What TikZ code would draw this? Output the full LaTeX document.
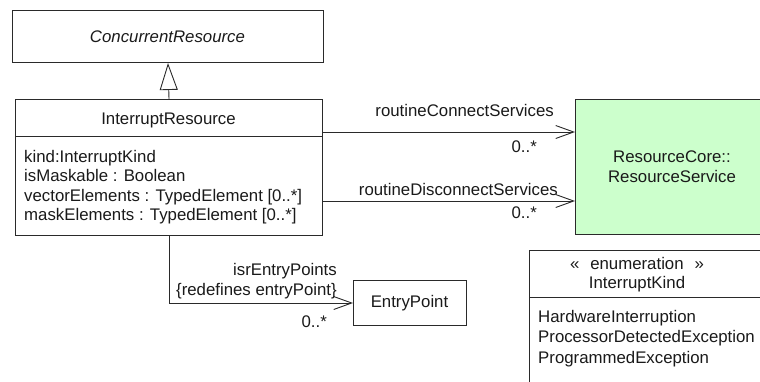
\documentclass[tikz,border=0pt]{standalone}
\usepackage{fontspec}
\setmainfont{Liberation Sans}
\usetikzlibrary{arrows.meta}
\definecolor{rsgreen}{HTML}{CCFFCC}
\definecolor{ink}{HTML}{1A1A1A}
\definecolor{edge}{HTML}{2A2A2A}
\tikzset{
  umlbox/.style={draw=edge, line width=1pt, fill=white, rectangle, inner sep=0pt, anchor=north west},
  txt/.style={inner sep=0pt, text=ink, font=\fontsize{16.8pt}{19.5pt}\selectfont},
  assoc/.style={draw=edge, line width=0.9pt, -{Straight Barb[length=18pt,width=13pt,line width=0.9pt]}},
  gen/.style={draw=edge, line width=0.9pt, -{Triangle[open,length=27pt,width=18pt,line width=0.9pt,fill=white]}},
  divider/.style={draw=edge, line width=1pt}
}
\begin{document}
\begin{tikzpicture}[x=1pt,y=-1pt]
\useasboundingbox (0,0) rectangle (760,381);
\clip (0,0) rectangle (760,381);
\fill[white] (0,0) rectangle (760,381);

% ConcurrentResource
\node[umlbox, minimum width=311pt, minimum height=52pt] (cr) at (12,10) {};
\node[txt, anchor=base, font=\fontsize{16.8pt}{19.5pt}\selectfont\itshape] (crt) at (167.5,42) {ConcurrentResource};

% InterruptResource
\node[umlbox, minimum width=307pt, minimum height=136pt] (ir) at (15,99) {};
\draw[divider] (ir.west |- 0,136) -- (ir.east |- 0,136);
\node[txt, anchor=base] (irt) at (168.5,124) {InterruptResource};
\node[txt, anchor=base west] (ira1) at (24,162) {kind:InterruptKind};
\node[txt, anchor=base west] (ira2) at (24,181.5) {isMaskable : Boolean};
\node[txt, anchor=base west] (ira3) at (24,201) {vectorElements : TypedElement [0..*]};
\node[txt, anchor=base west] (ira4) at (24,220.5) {maskElements : TypedElement [0..*]};

% ResourceService
\node[umlbox, fill=rsgreen, minimum width=215pt, minimum height=135pt] (rs) at (575,99) {};
\node[txt, anchor=base] (rst1) at (672,162) {ResourceCore::};
\node[txt, anchor=base] (rst2) at (672,182) {ResourceService};

% EntryPoint
\node[umlbox, minimum width=113pt, minimum height=45pt] (ep) at (353,280) {};
\node[txt, anchor=base] (ept) at (409.5,307) {EntryPoint};

% Enumeration
\node[umlbox, minimum width=260pt, minimum height=150pt] (en) at (529,250) {};
\draw[divider] (en.west |- 0,297) -- (en.east |- 0,297);
\node[txt, anchor=base] (ens) at (637,269) {«\hspace{0.65em}enumeration\hspace{0.65em}»};
\node[txt, anchor=base] (enn) at (637,288) {InterruptKind};
\node[txt, anchor=base west] (enl1) at (538,322) {HardwareInterruption};
\node[txt, anchor=base west] (enl2) at (538,342.5) {ProcessorDetectedException};
\node[txt, anchor=base west] (enl3) at (538,363) {ProgrammedException};

% Generalization
\draw[gen] (ir.north) -- (cr.south);

% Associations
\draw[assoc] (ir.east |- 0,132) -- (rs.west |- 0,132);
\node[txt, anchor=base east] (l1) at (554,116) {routineConnectServices};
\node[txt, anchor=base east] (m1) at (537,152) {0..*};

\draw[assoc] (ir.east |- 0,201) -- (rs.west |- 0,201);
\node[txt, anchor=base east] (l2) at (558,195) {routineDisconnectServices};
\node[txt, anchor=base east] (m2) at (537,218) {0..*};

\draw[assoc] (ir.south) |- (ep.west);
\node[txt, anchor=base east] (l3) at (337,275) {isrEntryPoints};
\node[txt, anchor=base east] (l4) at (337,295) {\{redefines entryPoint\}};
\node[txt, anchor=base east] (m3) at (327,327) {0..*};
\end{tikzpicture}
\end{document}
